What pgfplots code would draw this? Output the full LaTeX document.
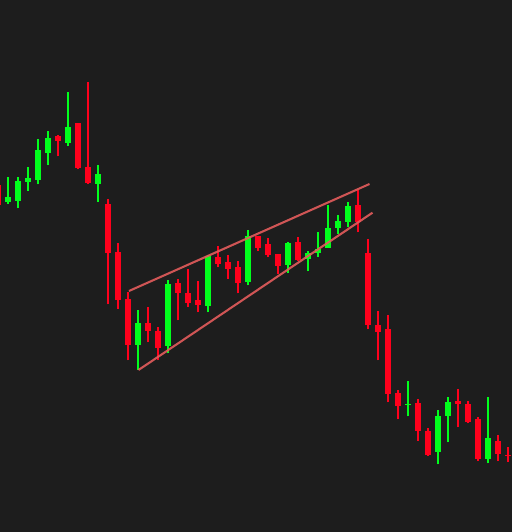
\documentclass[border=0pt]{standalone}
\usepackage{pgfplots}
\usepackage{pgfplotstable}
\pgfplotsset{compat=1.18}
\definecolor{bgc}{RGB}{29,29,29}
\definecolor{upc}{RGB}{0,255,28}
\definecolor{dnc}{RGB}{255,0,28}
\definecolor{wedge}{RGB}{228,92,92}

% green candles: x open high low close
\pgfplotstableread{
x o h l c
8 330.3 355 328 335.3
18 331.3 354.7 323.7 351
28 350.3 365.3 341.3 354
38 352.3 392.7 347.7 382
48 379.3 401 367.3 394
68 389.3 439.7 386.3 405
98 348.3 367 330.3 358
138 187.3 222 162 209
168 186.3 251.7 178.7 248
208 226.3 276.7 219.7 276
248 250.3 301.7 246.7 296
288 267.3 290 258.7 289
308 273.3 281 260.7 279
318 279.3 300 275.3 283
328 284.3 326.7 284.3 304
338 304.3 316.7 298 311
348 310.3 329.7 304.7 326
408 127.3 150.7 115.7 128.3
438 80.3 121.7 67.7 116
448 116.3 134.7 89.7 130
488 73 135 68.7 94
}\upcandles

% red candles: x open high low close
\pgfplotstableread{
x o h l c
-2 347 350 322 327
58 396 397 375.7 391.3
78 409 409 362.7 364.3
88 365 449.7 348.3 349.3
108 328 332.7 227.7 279.3
118 280 288.7 223.3 232.3
128 233 239.7 171.7 187.3
148 209 224.7 189.7 201.3
158 201 204.7 171.7 184.3
178 249 252.7 211.7 239.3
188 239 262.7 225.3 229.3
198 232 251 219.7 227.3
218 275 285.7 264.7 268.3
228 270 276.7 253.3 263.3
238 265 271 238.7 249
258 296 296 280.7 284.3
268 288 294.3 274.7 277.3
278 278 278 258 266.3
298 290 294.7 271.3 272.3
358 327 342 299.7 310.3
368 279 292.7 202.7 207.3
378 207 220.7 171.7 200.3
388 203 216.7 129.7 138.3
398 139 142 112.7 126.3
418 129 132.7 91.3 101
428 101 103.7 76 77
458 130.7 142.7 104.7 128.3
468 128 130.7 108.7 110.3
478 113 114.7 70.7 73
498 91 96.7 70.7 78.3
508 77 84.7 70.3 76
}\dncandles

\begin{document}
\begin{tikzpicture}
\begin{axis}[
  width=5.12in, height=5.32in, scale only axis,
  xmin=0, xmax=512, ymin=0, ymax=532,
  hide axis, clip=true,
]
\fill[bgc] (rel axis cs:0,0) rectangle (rel axis cs:1,1);
% wicks
\addplot[draw=none, mark=none, error bars/.cd, y dir=plus, y explicit,
  error mark=none, error bar style={draw=upc, line width=0.95pt}]
  table[x=x, y=l, y error plus expr=\thisrow{h}-\thisrow{l}] {\upcandles};
\addplot[draw=none, mark=none, error bars/.cd, y dir=plus, y explicit,
  error mark=none, error bar style={draw=dnc, line width=0.95pt}]
  table[x=x, y=l, y error plus expr=\thisrow{h}-\thisrow{l}] {\dncandles};
% bodies
\addplot[draw=none, mark=none, error bars/.cd, y dir=plus, y explicit,
  error mark=none, error bar style={draw=upc, line width=4.8pt}]
  table[x=x, y=o, y error plus expr=\thisrow{c}-\thisrow{o}] {\upcandles};
\addplot[draw=none, mark=none, error bars/.cd, y dir=plus, y explicit,
  error mark=none, error bar style={draw=dnc, line width=4.8pt}]
  table[x=x, y=c, y error plus expr=\thisrow{o}-\thisrow{c}] {\dncandles};
% wedge
\addplot[wedge, line width=1.5pt, opacity=0.9] coordinates {(129,241) (369.5,348)};
\addplot[wedge, line width=1.5pt, opacity=0.9] coordinates {(138.5,162) (372.5,319.3)};
\end{axis}
\end{tikzpicture}
\end{document}
